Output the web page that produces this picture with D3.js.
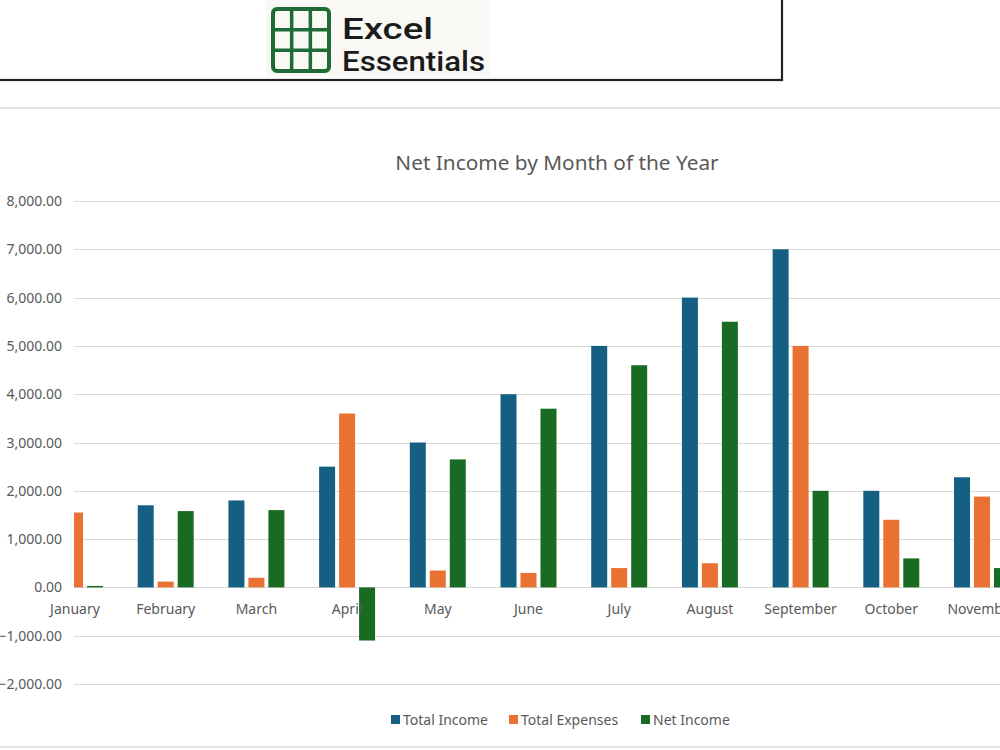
<!DOCTYPE html>
<html>
<head>
<meta charset="utf-8">
<script src="https://cdn.jsdelivr.net/npm/d3@7"></script>
<style>
  body{margin:0;background:#fff;}
  svg{display:block;font-family:"Noto Sans",sans-serif;}
</style>
</head>
<body>
<div id="container"></div>
<script>
const months=['January','February','March','April','May','June','July','August','September','October','November'];
const totalIncome=[1580,1700,1800,2500,3000,4000,5000,6000,7000,2000,2280];
const totalExpenses=[1550,120,200,3600,350,300,400,500,5000,1400,1880];
const netIncome=[30,1580,1600,-1100,2650,3700,4600,5500,2000,600,400];
const seriesNames=['Total Income','Total Expenses','Net Income'];
const yTicks=[-2000,-1000,0,1000,2000,3000,4000,5000,6000,7000,8000];

const colors=['#156082','#e97132','#196b24'];
const width=1000, height=750;

const svg=d3.select('#container').append('svg')
   .attr('width',width).attr('height',height);

// logo box (cut off at the top left)
svg.append('rect')
   .attr('x',-10).attr('y',-10).attr('width',792).attr('height',90)
   .attr('fill','none').attr('stroke','#222').attr('stroke-width',2.2);
svg.append('rect')
   .attr('x',266).attr('y',0).attr('width',224).attr('height',76)
   .attr('fill','#f9f8f5');
const logo=svg.append('g').attr('transform','translate(273,9)');
logo.append('rect').attr('width',56).attr('height',62).attr('rx',4)
   .attr('fill','none').attr('stroke','#1f6b35').attr('stroke-width',4);
[1,2].forEach(i=>{
  logo.append('line').attr('x1',i*56/3).attr('x2',i*56/3).attr('y1',0).attr('y2',62)
     .attr('stroke','#1f6b35').attr('stroke-width',3.5);
  logo.append('line').attr('y1',i*62/3).attr('y2',i*62/3).attr('x1',0).attr('x2',56)
     .attr('stroke','#1f6b35').attr('stroke-width',3.5);
});
svg.append('text').attr('x',342).attr('y',39).text('Excel')
   .attr('font-family','Roboto').attr('font-weight',500).attr('font-size',30)
   .attr('textLength',91).attr('lengthAdjust','spacingAndGlyphs').attr('fill','#1b1b1b');
svg.append('text').attr('x',342).attr('y',71).text('Essentials')
   .attr('font-family','Roboto').attr('font-weight',500).attr('font-size',27)
   .attr('textLength',143).attr('lengthAdjust','spacingAndGlyphs').attr('fill','#1b1b1b');

// chart frame lines
svg.append('line').attr('x1',0).attr('x2',width).attr('y1',108).attr('y2',108)
   .attr('stroke','#e3e3e3').attr('stroke-width',2);
svg.append('line').attr('x1',0).attr('x2',width).attr('y1',747).attr('y2',747)
   .attr('stroke','#e3e3e3').attr('stroke-width',2);

svg.append('text').attr('x',557).attr('y',170).attr('text-anchor','middle')
   .attr('font-size',20.8).attr('fill','#595959').text('Net Income by Month of the Year');

const plotLeft=74;
const step=90.7;
const xScale=d3.scaleBand().domain(months)
   .range([75-step/2,75-step/2+step*months.length])
   .paddingInner(0.383).paddingOuter(0.1915);
const xInner=d3.scaleBand().domain(seriesNames)
   .range([0,xScale.bandwidth()]).paddingInner(0.2);
const yScale=d3.scaleLinear().domain([-2000,8000]).range([684,201]);

// gridlines
svg.append('g').selectAll('line').data(yTicks).enter().append('line')
   .attr('x1',plotLeft).attr('x2',width)
   .attr('y1',d=>Math.round(yScale(d))+0.5).attr('y2',d=>Math.round(yScale(d))+0.5)
   .attr('stroke','#d9d9d9').attr('stroke-width',1.2);

// y labels
const fmt=d3.format(',.2f');
svg.append('g').selectAll('text').data(yTicks).enter().append('text')
   .attr('x',62).attr('y',d=>yScale(d)+5).attr('text-anchor','end')
   .attr('font-size',14).attr('fill','#595959')
   .text(d=>fmt(d));

svg.append('clipPath').attr('id','plotclip').append('rect')
   .attr('x',plotLeft).attr('y',150).attr('width',width-plotLeft).attr('height',560);

const allSeries=[totalIncome,totalExpenses,netIncome];
const bars=svg.append('g').attr('clip-path','url(#plotclip)');
allSeries.forEach((vals,si)=>{
  bars.selectAll('rect.s'+si).data(vals).enter().append('rect')
     .attr('class','s'+si)
     .attr('x',(d,i)=>xScale(months[i])+xInner(seriesNames[si]))
     .attr('width',xInner.bandwidth())
     .attr('y',d=>yScale(Math.max(0,d)))
     .attr('height',d=>Math.abs(yScale(d)-yScale(0)))
     .attr('fill',colors[si]);
});

// category labels
svg.append('g').selectAll('text').data(months).enter().append('text')
   .attr('x',d=>xScale(d)+xScale.bandwidth()/2).attr('y',614)
   .attr('text-anchor','middle').attr('font-size',14).attr('fill','#595959')
   .text(d=>d);

// legend
const legendX=[391,509,641];
const legend=svg.append('g').selectAll('g').data(seriesNames).enter().append('g')
   .attr('transform',(d,i)=>`translate(${legendX[i]},715)`);
legend.append('rect').attr('width',9).attr('height',9).attr('fill',(d,i)=>colors[i]);
legend.append('text').attr('x',12).attr('y',9.5).attr('font-size',14).attr('fill','#595959').text(d=>d);
</script>
</body>
</html>
